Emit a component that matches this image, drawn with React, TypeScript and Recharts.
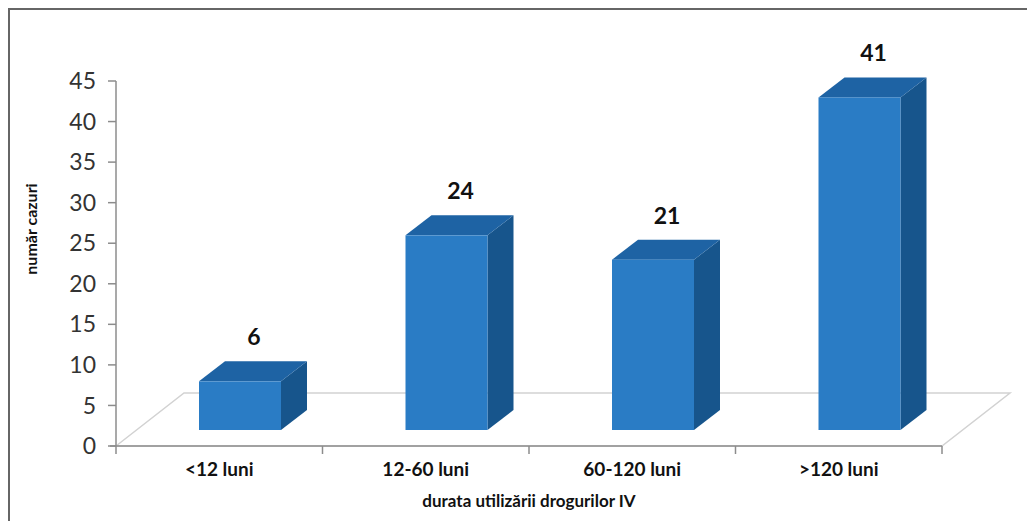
import React from 'react';
import { BarChart, Bar, XAxis, YAxis, LabelList, Customized } from 'recharts';

const categories = ['<12 luni', '12-60 luni', '60-120 luni', '>120 luni'];
const cases = [6, 24, 21, 41];
const yTicks = [0, 5, 10, 15, 20, 25, 30, 35, 40, 45];
const yTitle = 'număr cazuri';
const xTitle = 'durata utilizării drogurilor IV';

const data = categories.map((name, i) => ({ name, value: cases[i] }));

const W = 1027;
const H = 521;
const MARGIN = { top: 81, right: 85, bottom: 15, left: 56 };
const Y_AXIS_W = 60;
const X_AXIS_H = 60;
const PLOT_L = MARGIN.left + Y_AXIS_W;
const PLOT_R = W - MARGIN.right;
const PLOT_B = H - MARGIN.bottom - X_AXIS_H;

// 3d look
const SHIFT_X = 21;
const LIFT = 16;
const DX = 26;
const DY = 20;
const FLOOR_DX = 68;
const FLOOR_DY = 53;

const FONT = 'Lato, "Open Sans", sans-serif';

function Box(props: any) {
  const { x, y, width, height } = props;
  if (height == null || width == null) return null;
  const fx = x + SHIFT_X;
  const fy = y - LIFT;
  const fb = y + height - LIFT;
  return (
    <g>
      <polygon
        points={`${fx + width},${fy} ${fx + width + DX},${fy - DY} ${fx + width + DX},${fb - DY} ${fx + width},${fb}`}
        fill="#17558c"
      />
      <polygon
        points={`${fx},${fy} ${fx + DX},${fy - DY} ${fx + width + DX},${fy - DY} ${fx + width},${fy}`}
        fill="#1e63a4"
      />
      <rect x={fx} y={fy} width={width} height={fb - fy} fill="#2a7cc5" />
    </g>
  );
}

function ValueLabel(props: any) {
  const { x, y, width, value } = props;
  return (
    <text
      x={x + SHIFT_X + width / 2 + 14}
      y={y - LIFT - 45}
      textAnchor="middle"
      dominantBaseline="central"
      fontFamily={FONT}
      fontWeight={700}
      fontSize={23}
      fill="#111"
    >
      {value}
    </text>
  );
}

function Floor() {
  const step = (PLOT_R - PLOT_L) / categories.length;
  const ticks = [];
  for (let i = 0; i <= categories.length; i++) ticks.push(PLOT_L + i * step);
  return (
    <g>
      <polygon
        points={`${PLOT_L},${PLOT_B} ${PLOT_L + FLOOR_DX},${PLOT_B - FLOOR_DY} ${PLOT_R + FLOOR_DX},${PLOT_B - FLOOR_DY} ${PLOT_R},${PLOT_B}`}
        fill="#fff"
        stroke="#d2d2d2"
        strokeWidth={1.5}
      />
      <line x1={PLOT_L - 6} y1={PLOT_B} x2={PLOT_R} y2={PLOT_B} stroke="#8c8c8c" strokeWidth={1.5} />
      {ticks.map((tx) => (
        <line key={tx} x1={tx} y1={PLOT_B} x2={tx} y2={PLOT_B + 8} stroke="#8c8c8c" strokeWidth={1.5} />
      ))}
      <text
        transform={`translate(30, 229) rotate(-90)`}
        textAnchor="middle"
        dominantBaseline="central"
        fontFamily={FONT}
        fontWeight={700}
        fontSize={16}
        fill="#111"
      >
        {yTitle}
      </text>
      <text
        x={(PLOT_L + PLOT_R) / 2}
        y={500}
        textAnchor="middle"
        dominantBaseline="central"
        fontFamily={FONT}
        fontWeight={700}
        fontSize={17}
        fill="#111"
      >
        {xTitle}
      </text>
    </g>
  );
}

export default function App() {
  return (
    <div style={{ position: 'absolute', left: 0, top: 0, width: W, height: H, background: '#fff' }}>
      <div
        style={{
          position: 'absolute',
          left: 8,
          top: 8,
          width: W - 8,
          height: H - 8,
          borderTop: '2px solid #666',
          borderLeft: '2px solid #666',
          pointerEvents: 'none',
        }}
      />
      <BarChart width={W} height={H} data={data} margin={MARGIN} barCategoryGap={0}>
        <Customized component={<Floor />} />
        <XAxis
          dataKey="name"
          height={X_AXIS_H}
          axisLine={false}
          tickLine={false}
          tickSize={0}
          tickMargin={17}
          tick={{ fontFamily: FONT, fontWeight: 700, fontSize: 19, fill: '#111' }}
        />
        <YAxis
          width={Y_AXIS_W}
          domain={[0, 45]}
          ticks={yTicks}
          interval={0}
          axisLine={{ stroke: '#8c8c8c', strokeWidth: 1.5 }}
          tickLine={{ stroke: '#8c8c8c', strokeWidth: 1.5 }}
          tickSize={8}
          tickMargin={12}
          tick={{ fontFamily: FONT, fontSize: 23, fill: '#333' }}
        />
        <Bar dataKey="value" barSize={82} shape={<Box />} isAnimationActive={false}>
          <LabelList dataKey="value" content={<ValueLabel />} />
        </Bar>
      </BarChart>
    </div>
  );
}
